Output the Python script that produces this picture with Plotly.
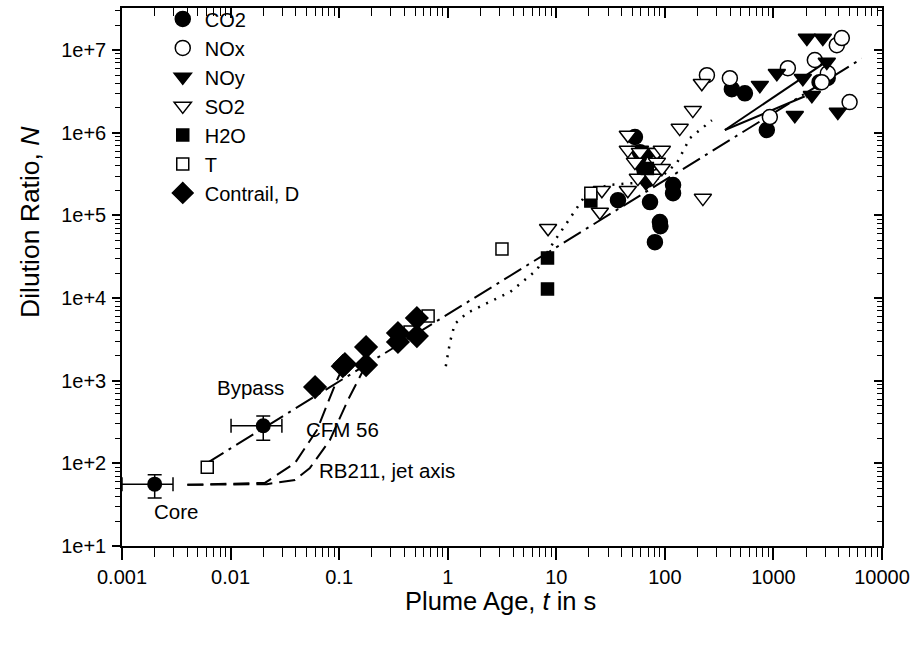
import plotly.graph_objects as go

# ---------------- data ----------------
t_co2 = [53, 37, 73, 119, 119, 90, 91, 81, 59, 65, 76, 69, 414, 546, 869, 2660, 3160]
N_co2 = [8.9e5, 1.53e5, 1.45e5, 2.33e5, 1.86e5, 8.3e4, 7.4e4, 4.75e4, 5.8e5, 3.5e5,
         4.9e5, 2.7e5, 3.37e6, 3.0e6, 1.08e6, 4.1e6, 4.6e6]
# CO2 points with error bars (core and CFM56 bypass)
t_co2_err = [0.002, 0.02]
N_co2_err = [56, 285]
t_err_plus = [0.00095, 0.0097]
t_err_minus = [0.001, 0.0099]
N_err_plus = [17, 90]
N_err_minus = [18, 95]

t_nox = [244, 397, 927, 1358, 2406, 3170, 3835, 4266, 5030, 2790, 76]
N_nox = [4.98e6, 4.58e6, 1.55e6, 6.05e6, 7.6e6, 5.25e6, 1.15e7, 1.4e7, 2.35e6, 4.1e6, 4.3e5]

t_noy = [2033, 2850, 750, 1075, 1866, 3100, 2260, 1574, 3920, 59, 73, 56, 67]
N_noy = [1.4e7, 1.4e7, 3.77e6, 5.25e6, 4.58e6, 7.2e6, 2.85e6, 1.63e6, 1.78e6,
         6.2e5, 5.8e5, 4.3e5, 2.5e5]

t_so2 = [8.4, 26.3, 25.2, 45.6, 45.6, 45.6, 58.9, 84.4, 93.8, 53, 84.4, 93.8, 56.4,
         77.6, 137, 181, 219, 224]
N_so2 = [7.0e4, 2.02e5, 1.10e5, 2.02e5, 9.4e5, 6.17e5, 5.83e5, 5.83e5, 6.17e5, 4.42e5,
         4.42e5, 3.73e5, 2.83e5, 2.83e5, 1.14e6, 1.88e6, 3.98e6, 1.62e5]

t_h2o = [8.3, 8.3, 20.8, 69]
N_h2o = [3.05e4, 1.29e4, 1.49e5, 3.7e5]

t_T = [0.0061, 0.45, 0.66, 3.16, 20.8]
N_T = [90, 3880, 6050, 3.92e4, 1.86e5]

t_con = [0.06, 0.113, 0.108, 0.177, 0.177, 0.348, 0.348, 0.52, 0.52]
N_con = [838, 1590, 1500, 2555, 1548, 3775, 2940, 5725, 3470]

# curves
t_fit = [0.006, 6500]
N_fit = [100, 7.9e6]

t_cfm = [0.004, 0.0207, 0.0392, 0.0625, 0.0955, 0.113]
N_cfm = [55, 58, 101, 253, 1018, 1637]

t_rb = [0.004, 0.0216, 0.0392, 0.0538, 0.0823, 0.1205, 0.1766]
N_rb = [55, 56, 63, 88, 192, 583, 1548]

t_dot = [0.96, 1.05, 1.16, 1.50, 2.30, 3.74, 6.6, 9.3, 12.5, 19.1, 29.9, 50.7, 90, 129, 170, 271]
N_dot = [1500, 2940, 4850, 6580, 8690, 1.18e4, 2.18e4, 4.6e4, 8.1e4, 1.86e5, 2.33e5,
         2.46e5, 2.83e5, 4.3e5, 8.6e5, 1.42e6]

t_arrA = [357, 3520]
N_arrA = [1.08e6, 8.2e6]
t_arrB = [357, 2400]
N_arrB = [1.08e6, 3.1e6]

x_ticks = [0.001, 0.01, 0.1, 1, 10, 100, 1000, 10000]
x_ticktext = ["0.001", "0.01", "0.1", "1", "10", "100", "1000", "10000"]
y_ticks = [1e1, 1e2, 1e3, 1e4, 1e5, 1e6, 1e7]
y_ticktext = ["1e+1", "1e+2", "1e+3", "1e+4", "1e+5", "1e+6", "1e+7"]

FONT = "Liberation Sans, Arial, Helvetica, sans-serif"

fig = go.Figure()

# curves first (below markers)
fig.add_trace(go.Scatter(x=t_fit, y=N_fit, mode="lines", showlegend=False,
                         line=dict(color="black", width=2, dash="20px,6px,3px,6px")))
fig.add_trace(go.Scatter(x=t_cfm, y=N_cfm, mode="lines", showlegend=False,
                         line=dict(color="black", width=2, dash="16px,7px")))
fig.add_trace(go.Scatter(x=t_rb, y=N_rb, mode="lines", showlegend=False,
                         line=dict(color="black", width=2, dash="16px,7px")))
fig.add_trace(go.Scatter(x=t_dot, y=N_dot, mode="lines", showlegend=False,
                         line=dict(color="black", width=2.5, dash="2px,7px")))
for tx, ny in ((t_arrA, N_arrA), (t_arrB, N_arrB)):
    fig.add_trace(go.Scatter(x=tx, y=ny, mode="lines+markers", showlegend=False,
                             line=dict(color="black", width=2),
                             marker=dict(symbol="arrow", size=[0, 11], angleref="previous",
                                         color="black")))

fig.add_trace(go.Scatter(x=t_co2_err, y=N_co2_err, mode="markers", showlegend=False,
                         marker=dict(symbol="circle", size=15, color="black"),
                         error_x=dict(type="data", symmetric=False, array=t_err_plus,
                                      arrayminus=t_err_minus, color="black", thickness=1.5, width=7),
                         error_y=dict(type="data", symmetric=False, array=N_err_plus,
                                      arrayminus=N_err_minus, color="black", thickness=1.5, width=7)))

mk = dict(line=dict(color="black", width=1.5))
fig.add_trace(go.Scatter(x=t_co2, y=N_co2, mode="markers", name="CO2",
                         marker=dict(symbol="circle", size=15, color="black", **mk)))
fig.add_trace(go.Scatter(x=t_nox, y=N_nox, mode="markers", name="NOx",
                         marker=dict(symbol="circle", size=15, color="white", **mk)))
fig.add_trace(go.Scatter(x=t_noy, y=N_noy, mode="markers", name="NOy",
                         marker=dict(symbol="triangle-down", size=15, color="black", **mk)))
fig.add_trace(go.Scatter(x=t_so2, y=N_so2, mode="markers", name="SO2",
                         marker=dict(symbol="triangle-down", size=15, color="white", **mk)))
fig.add_trace(go.Scatter(x=t_h2o, y=N_h2o, mode="markers", name="H2O",
                         marker=dict(symbol="square", size=12, color="black", **mk)))
fig.add_trace(go.Scatter(x=t_T, y=N_T, mode="markers", name="T",
                         marker=dict(symbol="square", size=12, color="white", **mk)))
fig.add_trace(go.Scatter(x=t_con, y=N_con, mode="markers", name="Contrail, D",
                         marker=dict(symbol="diamond", size=17, color="black", **mk)))

# invisible trace for the mirrored (inside-tick) axes
fig.add_trace(go.Scatter(x=[1], y=[100], xaxis="x2", yaxis="y2", mode="markers",
                         marker=dict(opacity=0), showlegend=False, hoverinfo="skip"))

minor_vals = [m * 10 ** e for e in range(-3, 8) for m in range(2, 10)]

common = dict(type="log", showgrid=False, zeroline=False, showline=True,
              linecolor="black", linewidth=1.5, automargin=False)

fig.update_layout(
    width=911, height=645,
    margin=dict(l=122, r=29, t=8, b=99, autoexpand=False),
    paper_bgcolor="white", plot_bgcolor="white",
    font=dict(family=FONT, color="black", size=20),
    xaxis=dict(range=[-3, 4], tickmode="array", tickvals=x_ticks, ticktext=x_ticktext,
               ticks="outside", ticklen=12, tickwidth=1.5, tickcolor="black",
               tickfont=dict(size=20),
               minor=dict(tickmode="array", tickvals=minor_vals, ticks="outside",
                          ticklen=9, tickwidth=1.2, tickcolor="black", showgrid=False),
               **common),
    yaxis=dict(range=[1, 7.51], tickmode="array", tickvals=y_ticks, ticktext=y_ticktext,
               ticks="outside", ticklen=8, tickwidth=1.5, tickcolor="black",
               tickfont=dict(size=20), ticklabelstandoff=2,
               minor=dict(tickmode="array", tickvals=minor_vals, ticks="outside",
                          ticklen=5, tickwidth=1.2, tickcolor="black", showgrid=False),
               **common),
    xaxis2=dict(range=[-3, 4], overlaying="x", side="top", anchor="y2",
                tickmode="array", tickvals=x_ticks, showticklabels=False,
                ticks="inside", ticklen=10, tickwidth=1.5, tickcolor="black",
                minor=dict(tickmode="array", tickvals=minor_vals, ticks="inside",
                           ticklen=8, tickwidth=1.2, tickcolor="black", showgrid=False),
                **common),
    yaxis2=dict(range=[1, 7.51], overlaying="y", side="right", anchor="x2",
                tickmode="array", tickvals=y_ticks, showticklabels=False,
                ticks="inside", ticklen=8, tickwidth=1.5, tickcolor="black",
                minor=dict(tickmode="array", tickvals=minor_vals, ticks="inside",
                           ticklen=5, tickwidth=1.2, tickcolor="black", showgrid=False),
                **common),
    legend=dict(x=0.051, y=1.016, xanchor="left", yanchor="top", bgcolor="rgba(0,0,0,0)",
                font=dict(size=20, family=FONT), tracegroupgap=0, itemwidth=34),
    showlegend=True,
)

ann = dict(showarrow=False, font=dict(family=FONT, size=20.5, color="black"))
fig.add_annotation(x=-1.821, y=2.923, xref="x", yref="y", text="Bypass", xanchor="center", **ann)
fig.add_annotation(x=-1.324, y=2.415, xref="x", yref="y", text="CFM 56", xanchor="left", **ann)
fig.add_annotation(x=-1.204, y=1.919, xref="x", yref="y", text="RB211, jet axis", xanchor="left", **ann)
fig.add_annotation(x=-2.503, y=1.423, xref="x", yref="y", text="Core", xanchor="center", **ann)

# axis titles
fig.add_annotation(x=(30 - 122) / 760, y=(546 - 222) / 538, xref="paper", yref="paper",
                   xanchor="center", yanchor="middle",
                   text="Dilution Ratio, <i>N</i>", textangle=-90, showarrow=False,
                   font=dict(family=FONT, size=26.5, color="black"))
fig.add_annotation(x=(500 - 122) / 760, y=(546 - 601) / 538, xref="paper", yref="paper",
                   xanchor="center", yanchor="middle",
                   text="Plume Age, <i>t</i> in s", showarrow=False,
                   font=dict(family=FONT, size=25.5, color="black"))

fig.write_html("out.html", config={"displayModeBar": False},
               post_script="document.body.style.margin='0';document.body.style.padding='0';")
